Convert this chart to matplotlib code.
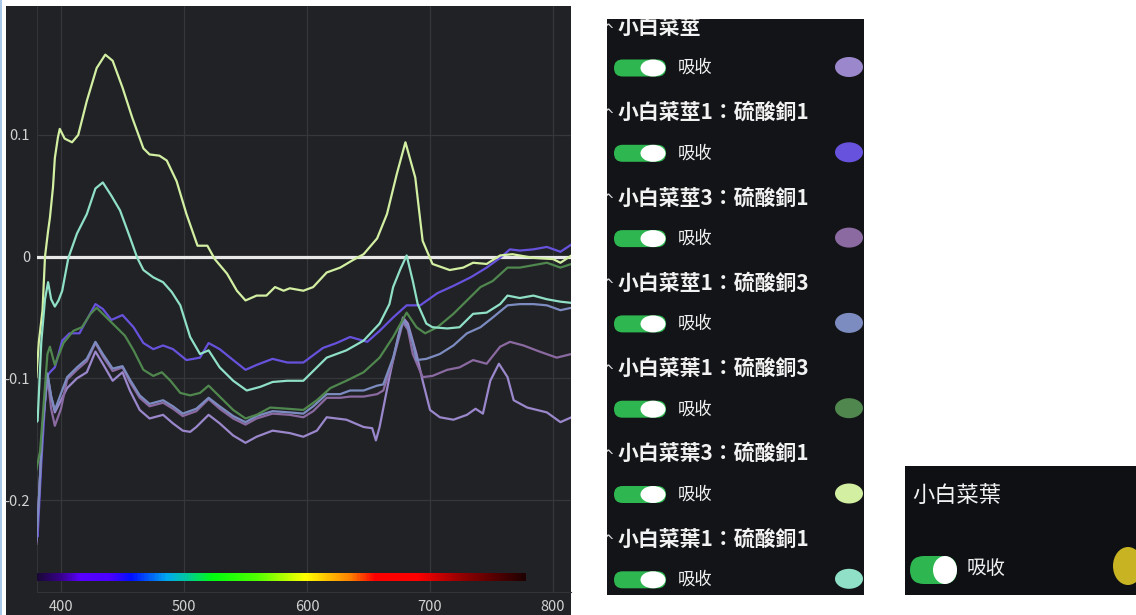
import matplotlib
matplotlib.use('Agg')
import matplotlib.pyplot as plt
import numpy as np
from matplotlib.patches import Rectangle, Ellipse, FancyBboxPatch
from matplotlib.colors import LinearSegmentedColormap

plt.rcParams['font.family'] = ['Noto Sans CJK TC', 'DejaVu Sans']

W, H = 1136, 615

# ---- spectra (absorbance relative to 小白菜葉) ----
yel_nm = [380, 382, 385, 387, 389.5, 391, 393.5, 395, 397.5, 399, 403, 409, 414, 421, 429, 436, 442, 450,
          458, 467, 472, 480, 486, 494, 502, 511, 519, 525, 535, 543, 550, 559, 567, 574, 581, 586, 597,
          605, 616, 627, 637, 646, 657, 665, 673, 680, 688, 694, 702, 716, 727, 735, 746, 757, 767, 784,
          800, 806, 815]
yel_val = [-0.099, -0.07, -0.044, 0.0, 0.021, 0.032, 0.057, 0.081, 0.098, 0.105, 0.097, 0.094, 0.100,
           0.128, 0.155, 0.166, 0.161, 0.139, 0.114, 0.089, 0.084, 0.083, 0.079, 0.062, 0.035, 0.009,
           0.009, -0.002, -0.014, -0.028, -0.036, -0.032, -0.032, -0.025, -0.028, -0.026, -0.028, -0.025,
           -0.013, -0.009, -0.003, 0.002, 0.015, 0.035, 0.068, 0.094, 0.065, 0.013, -0.006, -0.011,
           -0.009, -0.005, -0.006, 0.001, 0.002, -0.001, -0.002, -0.005, 0.001]

aqua_nm = [380, 381, 384, 387, 389.5, 392, 395, 398, 401, 406, 413, 421, 428, 434, 441, 448, 456, 462,
           467, 475, 483, 490, 497, 505, 513, 520, 529, 540, 551, 562, 572, 584, 597, 616, 632, 646, 659,
           667, 670, 676, 681, 686, 690, 697, 702, 714, 724, 735, 746, 757, 763, 773, 784, 795, 806, 815]
aqua_val = [-0.136, -0.135, -0.07, -0.035, -0.021, -0.035, -0.041, -0.036, -0.028, -0.001, 0.019, 0.035,
            0.056, 0.061, 0.050, 0.038, 0.016, -0.001, -0.011, -0.017, -0.021, -0.029, -0.040, -0.066,
            -0.080, -0.077, -0.091, -0.102, -0.110, -0.107, -0.103, -0.102, -0.102, -0.083, -0.077,
            -0.069, -0.055, -0.039, -0.025, -0.010, 0.001, -0.020, -0.039, -0.055, -0.058, -0.059,
            -0.058, -0.047, -0.046, -0.039, -0.032, -0.034, -0.032, -0.035, -0.037, -0.038]

blue_nm = [380, 381, 384, 387, 389, 391, 395, 401, 407, 415, 422, 428, 434, 441, 450, 459, 467, 475, 483,
           491, 502, 513, 520, 529, 540, 550, 559, 572, 584, 597, 613, 624, 635, 649, 659, 670, 681, 692,
           706, 719, 733, 746, 757, 765, 773, 784, 795, 806, 815]
blue_val = [-0.225, -0.23, -0.17, -0.12, -0.098, -0.095, -0.091, -0.069, -0.063, -0.063, -0.050, -0.039,
            -0.043, -0.052, -0.048, -0.058, -0.071, -0.076, -0.073, -0.076, -0.085, -0.083, -0.071,
            -0.076, -0.085, -0.093, -0.089, -0.084, -0.087, -0.087, -0.075, -0.071, -0.066, -0.070,
            -0.061, -0.050, -0.040, -0.040, -0.030, -0.024, -0.017, -0.009, -0.001, 0.006, 0.005,
            0.006, 0.008, 0.004, 0.010]

green_nm = [380, 383, 386, 389, 391, 395, 402, 410, 417, 424, 429, 437, 445, 452, 459, 467, 475, 482,
            489, 497, 505, 513, 520, 529, 540, 550, 559, 570, 584, 597, 608, 619, 632, 646, 659, 670,
            681, 689, 696, 706, 719, 730, 741, 751, 763, 773, 784, 795, 806, 815]
green_val = [-0.175, -0.16, -0.12, -0.08, -0.074, -0.089, -0.071, -0.061, -0.058, -0.047, -0.042,
             -0.050, -0.058, -0.065, -0.077, -0.093, -0.098, -0.095, -0.102, -0.112, -0.114, -0.112,
             -0.106, -0.115, -0.126, -0.133, -0.130, -0.124, -0.125, -0.126, -0.118, -0.108, -0.102,
             -0.095, -0.083, -0.066, -0.046, -0.058, -0.063, -0.058, -0.047, -0.036, -0.025, -0.020,
             -0.009, -0.009, -0.007, -0.005, -0.009, -0.006]

slate_nm = [380, 382, 385, 389, 392, 395, 405, 413, 421, 428, 434, 442, 450, 456, 464, 472, 483, 491,
            499, 510, 520, 529, 540, 550, 559, 572, 586, 597, 605, 616, 627, 635, 646, 657, 662, 670,
            678, 682, 686, 689, 697, 708, 719, 730, 741, 751, 763, 773, 784, 795, 806, 815]
slate_val = [-0.233, -0.20, -0.14, -0.096, -0.115, -0.126, -0.099, -0.091, -0.084, -0.070, -0.080,
             -0.092, -0.090, -0.101, -0.114, -0.121, -0.118, -0.123, -0.129, -0.125, -0.116, -0.123,
             -0.131, -0.136, -0.131, -0.127, -0.128, -0.129, -0.123, -0.113, -0.113, -0.110, -0.110,
             -0.106, -0.105, -0.083, -0.052, -0.058, -0.071, -0.085, -0.084, -0.080, -0.073, -0.063,
             -0.058, -0.050, -0.040, -0.039, -0.039, -0.040, -0.044, -0.042]

mauve_nm = [380, 382, 385, 389, 392, 395, 400, 405, 413, 421, 428, 434, 442, 450, 456, 464, 472, 483,
            491, 499, 510, 520, 529, 540, 550, 559, 572, 586, 597, 605, 616, 627, 635, 646, 657, 662,
            670, 678, 682, 686, 694, 702, 714, 724, 735, 746, 757, 765, 776, 789, 803, 815]
mauve_val = [-0.236, -0.20, -0.14, -0.098, -0.125, -0.139, -0.125, -0.101, -0.093, -0.086, -0.071,
             -0.082, -0.094, -0.091, -0.103, -0.116, -0.123, -0.120, -0.125, -0.131, -0.127, -0.117,
             -0.125, -0.133, -0.138, -0.133, -0.129, -0.130, -0.132, -0.127, -0.116, -0.116, -0.115,
             -0.115, -0.113, -0.110, -0.085, -0.054, -0.060, -0.080, -0.099, -0.098, -0.093, -0.091,
             -0.085, -0.088, -0.074, -0.070, -0.073, -0.078, -0.083, -0.080]

lav_nm = [380, 382, 385, 389, 392, 395, 400, 405, 413, 421, 428, 434, 442, 450, 456, 464, 472, 483, 491,
          499, 505, 510, 520, 529, 540, 550, 559, 572, 586, 597, 608, 616, 632, 646, 653, 656, 659, 667,
          674, 678, 682, 689, 694, 700, 708, 719, 730, 737, 743, 749, 756, 763, 768, 779, 795, 806, 815]
lav_val = [-0.234, -0.20, -0.14, -0.097, -0.115, -0.128, -0.118, -0.108, -0.100, -0.095, -0.078, -0.088,
           -0.102, -0.095, -0.110, -0.126, -0.133, -0.130, -0.137, -0.143, -0.144, -0.140, -0.130,
           -0.137, -0.147, -0.153, -0.148, -0.143, -0.145, -0.148, -0.143, -0.132, -0.134, -0.140,
           -0.141, -0.151, -0.140, -0.099, -0.066, -0.050, -0.055, -0.080, -0.102, -0.126, -0.132,
           -0.134, -0.130, -0.125, -0.129, -0.102, -0.088, -0.099, -0.118, -0.124, -0.128, -0.136, -0.132]

# reference sample (小白菜葉) sits on the zero line
ref_nm = [380, 815]
ref_val = [0, 0]

series = [
    ('小白菜莖', lav_nm, lav_val, '#9b87cc'),
    ('小白菜莖1：硫酸銅1', blue_nm, blue_val, '#6652dd'),
    ('小白菜莖3：硫酸銅1', mauve_nm, mauve_val, '#8b6aa2'),
    ('小白菜莖1：硫酸銅3', slate_nm, slate_val, '#7c8cc0'),
    ('小白菜葉1：硫酸銅3', green_nm, green_val, '#4f874e'),
    ('小白菜葉3：硫酸銅1', yel_nm, yel_val, '#d2efa2'),
    ('小白菜葉1：硫酸銅1', aqua_nm, aqua_val, '#8fe0c6'),
]
ref_name, ref_color = '小白菜葉', '#c8b422'

x_ticks = [400, 500, 600, 700, 800]
y_ticks = [-0.2, -0.1, 0, 0.1]
y_labels = ['-0.2', '-0.1', '0', '0.1']

# spectrum colour bar stops (nm, colour)
spec_stops = [(380, '#1a0838'), (400, '#3a0090'), (415, '#5a00ff'), (440, '#4a00ff'),
              (457, '#0010ff'), (486, '#00a8f0'), (502, '#00c8a0'), (524, '#00ff10'),
              (560, '#50ff00'), (600, '#ffff00'), (637, '#ff8000'), (657, '#ff0000'),
              (692, '#ff0000'), (730, '#900000'), (780, '#200000')]


def px_axes(fig, x0, y0, x1, y1):
    return fig.add_axes([x0 / W, 1 - y1 / H, (x1 - x0) / W, (y1 - y0) / H])


fig = plt.figure(figsize=(W / 100, H / 100), dpi=100, facecolor='white')

# dark card behind the chart + light edge on the left
fig.patches.append(Rectangle((6 / W, 0), (571 - 6) / W, (H - 6) / H, transform=fig.transFigure,
                             facecolor='#212225', edgecolor='none', zorder=-2))
fig.patches.append(Rectangle((0, 0), 2 / W, 1, transform=fig.transFigure,
                             facecolor='#a9c8e8', edgecolor='none', zorder=-2))

ax = px_axes(fig, 37, 6, 571, 592)
ax.set_facecolor('#212225')
ax.set_xticks(x_ticks)
ax.set_yticks(y_ticks)
ax.set_yticklabels(y_labels)
ax.tick_params(length=0, colors='#d2d2d2', labelsize=10.5)
ax.tick_params(axis='x', pad=6)
ax.tick_params(axis='y', pad=5)
ax.grid(True, color='#36373b', lw=0.9)
for s in ['top', 'right']:
    ax.spines[s].set_visible(False)
for s in ['left', 'bottom']:
    ax.spines[s].set_color('#333438')

ax.plot(ref_nm, ref_val, color='#e8e8e8', lw=2.3, zorder=3)
for name, nm, val, col in series:
    ax.plot(nm, val, color=col, lw=1.6, zorder=4)

# visible spectrum strip
cmap = LinearSegmentedColormap.from_list(
    'spec', [((w - 380) / 400, c) for w, c in spec_stops])
ax.imshow(np.linspace(0, 1, 400)[None, :], cmap=cmap, aspect='auto',
          extent=[380, 778, -0.2665, -0.2600], zorder=5)
ax.set_xlim(380.5, 814.6)
ax.set_ylim(-0.2756, 0.206)

# ---- legend panel ----
lg = px_axes(fig, 607, 19, 864, 595)
lg.set_facecolor('#131417')
lg.set_xlim(607, 864)
lg.set_ylim(595, 19)
lg.set_xticks([])
lg.set_yticks([])
for s in lg.spines.values():
    s.set_visible(False)

row0, step = 27, 85.3
for i, (name, nm, val, col) in enumerate(series):
    hy = row0 + i * step
    ty = hy + 41
    lg.text(601, hy + 3, '^', color='#d8d8d8', fontsize=11,
            ha='left', va='center', clip_on=True, family=['DejaVu Sans'])
    lg.text(618, hy, name, color='#f2f2f2', fontsize=15, fontweight='bold',
            ha='left', va='center', clip_on=True)
    lg.add_patch(FancyBboxPatch((614, ty - 8.5), 52, 17, boxstyle='round,pad=0,rounding_size=8.5',
                                facecolor='#2eb651', edgecolor='none'))
    lg.add_patch(Ellipse((653, ty), 25, 17, facecolor='white', edgecolor='none'))
    lg.text(678, ty, '吸收', color='#f0f0f0', fontsize=12.5, ha='left', va='center')
    lg.add_patch(Ellipse((849, ty - 1), 28, 20, facecolor=col, edgecolor='none'))

# ---- reference panel ----
rp = px_axes(fig, 905, 466, 1136, 595)
rp.set_facecolor('#0e1014')
rp.set_xlim(905, 1136)
rp.set_ylim(595, 466)
rp.set_xticks([])
rp.set_yticks([])
for s in rp.spines.values():
    s.set_visible(False)
rp.text(912, 495, ref_name, color='#f2f2f2', fontsize=16, ha='left', va='center')
rp.add_patch(FancyBboxPatch((910, 556), 47, 28, boxstyle='round,pad=0,rounding_size=14',
                            facecolor='#2eb651', edgecolor='none'))
rp.add_patch(Ellipse((945, 570), 24, 28, facecolor='white', edgecolor='none'))
rp.text(967, 568, '吸收', color='#f0f0f0', fontsize=14, ha='left', va='center')
rp.add_patch(Ellipse((1128, 566), 30, 38, facecolor=ref_color, edgecolor='none'))

fig.savefig('out.png', dpi=100, facecolor='white')
